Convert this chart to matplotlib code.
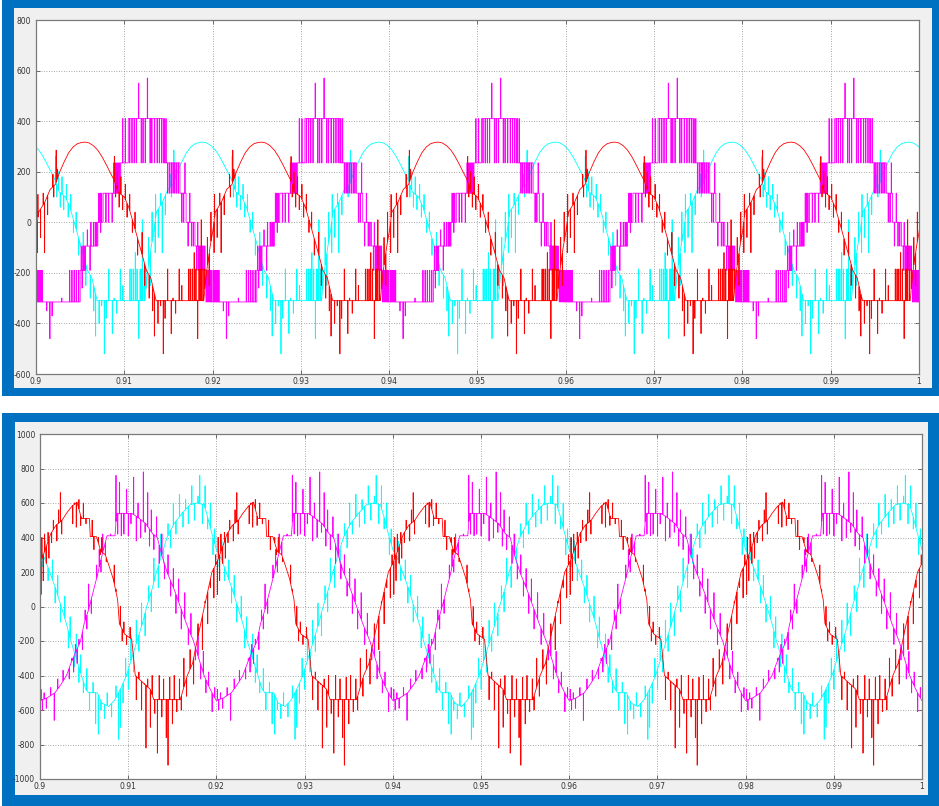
import numpy as np
import matplotlib.pyplot as plt
from matplotlib.patches import Rectangle

# one 20 ms period of every trace (ms after 0.900 s)
PERIOD = 20.0
N_PERIODS = 5

# --- top panel: phase voltages (red and cyan share one shape, cyan is delayed) ---
top_ph_t = [0.0, 0.3, 1.0, 1.6, 2.2, 2.7, 3.2, 3.7, 4.2, 4.7, 5.2, 5.55, 6.0, 6.5, 7.0, 7.5,
            8.0, 8.5, 8.8, 9.3, 10.0, 10.5, 11.0, 11.8, 12.5, 13.0, 13.6, 17.2, 19.0, 19.3, 19.7, 20.0]
top_ph_v = [-40, 40, 80, 130, 150, 200, 240, 275, 298, 311, 316, 317, 314, 303, 285, 258,
            225, 190, 170, 120, 100, 60, 0, -100, -190, -220, -310, -310, -310, -200, -100, -40]
top_ph_spk_t = [0.15, 0.2, 0.5, 0.8, 0.95, 1.3, 1.9, 2.0, 2.27, 2.4,
                8.87, 9.0, 9.2, 9.4, 9.6, 9.8, 10.1, 10.3, 10.6, 10.9, 11.2, 11.5, 12.0, 12.3, 12.8,
                13.2, 13.4, 13.8, 14.1, 14.4, 14.6, 14.9, 15.3, 15.5, 15.8, 16.2, 16.5,
                17.3, 17.5, 17.7, 17.9, 18.1, 18.3, 18.45, 18.55, 18.7, 18.9, 19.1, 19.4, 19.6, 19.8]
top_ph_spk_v = [-120, 110, -60, 115, -120, 30, 190, 100, 285, 210,
                260, 100, 200, 60, 180, 50, 150, 20, 110, -40, 40, -130, -40, -250, -300,
                -350, -450, -400, -330, -520, -380, -185, -440, -300, -360, -185, -250,
                -185, -185, -185, -120, -185, -460, -185, -185, 10, -185, -185, -60, -250, 40]
top_red_delay = 0.0
top_cyan_delay = 13.33

# magenta staircase: level held from each edge to the next
mag_top_edge = [0.0, 5.0, 5.6, 7.0, 7.6, 9.6, 10.45, 14.4, 16.3, 17.0, 18.0, 19.0, 19.8]
mag_top_level = [-315, -190, -94, 0, 115, 235, 410, 235, 115, 0, -94, -190, -315]
mag_top_spk_t = [0.1, 0.25, 0.4, 0.55, 0.7, 1.2, 1.55, 1.8, 2.9, 3.8, 4.05, 4.3, 4.55, 4.8,
                 5.1, 5.2, 5.3, 5.4, 5.5, 5.8, 6.1, 6.2, 6.5, 6.7, 6.85, 7.1, 7.25, 7.3, 7.4,
                 7.9, 8.2, 8.6, 8.8, 9.0, 9.15, 9.3, 9.45,
                 9.8, 10.1,
                 10.6, 10.85, 11.1, 11.35, 11.6, 11.9, 12.1, 12.35, 12.6, 12.9, 13.1, 13.4, 13.7, 13.95, 14.2,
                 14.5, 14.7, 14.9, 15.1, 15.3, 15.5, 15.7, 15.9, 16.1,
                 16.5, 16.7, 16.85, 17.2, 17.4, 17.6, 17.8,
                 18.2, 18.3, 18.4, 18.55, 18.7, 18.85,
                 19.1, 19.25, 19.4, 19.55, 19.7, 19.9]
mag_top_spk_v = [-190, -190, -190, -190, -190, -350, -460, -370, -300, -190, -190, -190, -190, -190,
                 -94, -260, -94, -94, -94, -30, -190, 0, 0, 0, 0, 115, 115, -40, 115,
                 0, 0, 0, 235, 235, 235, 235, 235,
                 410, 410,
                 235, 235, 235, 235, 550, 235, 235, 235, 570, 235, 235, 235, 235, 235, 235,
                 410, 410, 115, 115, 115, 115, 115, 115, 115,
                 0, 0, 235, -94, 115, -94, -94,
                 -190, 0, -190, -190, -190, -190,
                 -94, -315, -315, -315, -315, -190]

# --- bottom panel: line voltages ---
bot_red_t = [0.0, 0.6, 1.2, 1.8, 2.5, 3.0, 3.6, 4.2, 4.7, 5.6, 5.7, 6.4, 6.9, 7.4, 7.8, 8.3,
             8.8, 9.0, 9.6, 10.4, 10.8, 12.5, 12.9, 15.9, 16.7, 17.3, 17.8, 18.3, 18.9, 19.5, 20.0]
bot_red_v = [250, 330, 420, 470, 500, 540, 580, 605, 510, 510, 405, 405, 320, 300, 240, 160,
             40, -100, -160, -190, -400, -480, -540, -540, -400, -330, -200, -80, 60, 200, 250]
bot_red_spk_t = [0.1, 0.2, 0.35, 0.5, 0.7, 0.9, 1.0, 1.3, 1.5, 1.9, 2.1, 2.3, 2.45, 3.7, 3.9, 4.1, 4.4, 4.6, 4.9, 5.2,
                 5.9, 6.1, 6.6, 6.8, 7.0, 7.5, 8.4, 8.6, 9.1, 9.3, 9.5, 9.8, 10.2, 10.9, 11.2, 11.5, 11.8, 12.0, 12.2, 12.5,
                 12.7, 13.0, 13.3, 13.5, 13.8, 14.0, 14.3, 14.5, 14.7, 15.0, 15.2, 15.5, 15.8, 16.0, 16.3, 16.6, 17.0, 17.4,
                 17.9, 18.4, 18.7, 19.0, 19.3, 19.7, 19.9]
bot_red_spk_v = [70, 400, 150, 420, 250, 430, 280, 370, 500, 380, 560, 660, 420, 480, 600, 460, 620, 470, 600, 480,
                 500, 330, 400, 300, 400, 260, 240, 100, 0, -200, -90, -220, -120, -540, -380, -600, -450, -820, -420, -700,
                 -400, -620, -850, -400, -640, -420, -760, -920, -410, -680, -400, -610, -420, -600, -300, -520, -250, -450,
                 -100, -250, 30, -100, 110, 50, 300]

bot_mag_t = [0.0, 0.8, 1.7, 2.4, 3.0, 3.5, 4.0, 4.6, 5.0, 5.5, 6.0, 6.5, 6.8, 7.3, 7.6, 8.5, 8.7,
             10.4, 11.0, 12.0, 12.8, 13.3, 13.8, 14.4, 15.2, 15.9, 16.6, 17.4, 18.0, 18.6, 19.2, 19.7, 20.0]
bot_mag_v = [-545, -530, -500, -450, -400, -330, -270, -200, -100, -20, 80, 180, 250, 350, 410, 410, 540,
             540, 520, 480, 420, 400, 300, 200, 100, 0, -100, -200, -300, -400, -470, -520, -545]
bot_mag_spk_t = [0.1, 0.25, 0.45, 0.7, 1.2, 1.6, 2.0, 2.6, 3.3, 3.6, 3.8, 4.0, 4.2, 4.4, 4.8, 5.1, 5.3, 5.5, 5.8, 6.4,
                 6.7, 6.9, 7.1, 7.4, 8.0, 8.6, 8.8, 9.0, 9.2, 9.5, 9.8, 10.0, 10.3, 10.6, 10.9, 11.1, 11.4, 11.7, 11.9, 12.2,
                 12.4, 12.6, 12.9, 13.2, 13.5, 13.8, 14.1, 14.5, 14.8, 15.1, 15.4, 15.7, 16.0, 16.4, 16.8, 17.1, 17.6, 17.9,
                 18.2, 18.5, 18.8, 19.1, 19.5, 19.8]
bot_mag_spk_v = [-480, -600, -500, -590, -470, -660, -420, -370, -420, -300, -380, -220, -330, -190, -250, -20, -130, 130, -40, 240,
                 330, 200, 420, 300, 420, 760, 420, 720, 410, 420, 680, 410, 480, 750, 380, 600, 400, 780, 430, 660,
                 350, 560, 330, 520, 250, 420, 160, 300, 60, 220, -40, 160, -130, 80, -220, -40, -310, -120,
                 -420, -260, -500, -380, -610, -470]

bot_cyan_t = [0.0, 0.6, 1.1, 1.8, 2.4, 3.0, 3.5, 4.1, 4.7, 5.2, 5.5, 6.5, 7.0, 7.8, 8.5, 9.2, 9.8,
              10.4, 11.0, 11.6, 12.1, 12.7, 13.2, 13.8, 14.4, 15.2, 16.1, 17.0, 17.8, 18.6, 19.0, 19.5, 20.0]
bot_cyan_v = [330, 270, 200, 100, 0, -100, -200, -300, -400, -480, -500, -500, -560, -580, -540, -470, -400,
              -300, -200, -100, 0, 100, 200, 300, 400, 480, 540, 590, 600, 590, 520, 420, 330]
bot_cyan_spk_t = [0.1, 0.3, 0.6, 0.9, 1.4, 1.7, 2.0, 2.3, 2.8, 3.2, 3.4, 3.9, 4.1, 4.4, 4.6, 4.9, 5.3, 5.6, 6.0, 6.3,
                  6.6, 6.9, 7.3, 7.6, 8.1, 8.6, 8.9, 9.1, 9.4, 9.7, 10.0, 10.3, 10.6, 10.9, 11.2, 11.5, 11.9, 12.3, 12.6, 12.9,
                  13.4, 13.7, 14.0, 14.5, 14.8, 15.1, 15.4, 15.8, 16.2, 16.5, 16.8, 17.2, 17.5, 17.9, 18.1, 18.4, 18.7, 19.0,
                  19.3, 19.6, 19.8]
bot_cyan_spk_v = [400, 230, 380, 150, 270, 20, 180, -90, 60, -240, -60, -350, -160, -440, -280, -500, -360, -600, -440, -680,
                  -740, -600, -650, -500, -640, -460, -770, -700, -560, -300, -480, -170, -380, -80, -260, 20, -170, 120, -30, 280,
                  110, 420, 250, 480, 340, 600, 420, 650, 460, 620, 480, 700, 500, 640, 760, 480, 700, 450, 600, 300,
                  450]

x_ticks = [0.9, 0.91, 0.92, 0.93, 0.94, 0.95, 0.96, 0.97, 0.98, 0.99, 1.0]
x_tick_labels = ['0.9', '0.91', '0.92', '0.93', '0.94', '0.95', '0.96', '0.97', '0.98', '0.99', '1']
top_y_ticks = [-600, -400, -200, 0, 200, 400, 600, 800]
bot_y_ticks = [-1000, -800, -600, -400, -200, 0, 200, 400, 600, 800, 1000]

W, H = 939, 806
BLUE = '#0070C0'
GREY = '#F0F0F0'


def one_period(bt, bv, st, sv, width, step=False):
    bt = np.asarray(bt, float)
    bv = np.asarray(bv, float)
    st = np.asarray(st, float)
    sv = np.asarray(sv, float)
    if step:
        pt = np.append(np.repeat(bt, 2)[1:], PERIOD)
        pv = np.repeat(bv, 2)
        base = bv[np.searchsorted(bt, st, side='right') - 1]
        base2 = bv[np.searchsorted(bt, st + width, side='right') - 1]
    else:
        pt, pv = bt, bv
        base = np.interp(st, bt, bv)
        base2 = np.interp(st + width, bt, bv)
    # each switching pulse: jump to the read value and back
    spt = np.column_stack([st, st, st + width, st + width]).ravel()
    spv = np.column_stack([base, sv, sv, base2]).ravel()
    t = np.concatenate([pt, spt])
    v = np.concatenate([pv, spv])
    order = np.argsort(t, kind='stable')
    return t[order], v[order]


def trace(bt, bv, st, sv, delay, width, step=False):
    t1, v1 = one_period(bt, bv, st, sv, width, step)
    ts, vs = [], []
    for k in range(-1, N_PERIODS + 1):
        ts.append(t1 + k * PERIOD + delay)
        vs.append(v1)
    return 0.9 + np.concatenate(ts) / 1000.0, np.concatenate(vs)


def frame(x0, y0, x1, y1, color, z):
    fig.add_artist(Rectangle((x0 / W, 1 - y1 / H), (x1 - x0) / W, (y1 - y0) / H,
                             transform=fig.transFigure, facecolor=color, edgecolor='none', zorder=z))


def style(ax, yticks):
    ax.set_facecolor('white')
    ax.set_xlim(0.9, 1.0)
    ax.set_ylim(yticks[0], yticks[-1])
    ax.set_xticks(x_ticks)
    ax.set_xticklabels(x_tick_labels)
    ax.set_yticks(yticks)
    ax.set_yticklabels([str(y) for y in yticks])
    ax.tick_params(direction='in', length=3, width=0.6, colors='#555555', labelcolor='#333333',
                   labelsize=5.5, top=True, right=True)
    ax.tick_params(axis='x', pad=2)
    ax.tick_params(axis='y', pad=3.5)
    for s in ax.spines.values():
        s.set_color('#7a7a7a')
        s.set_linewidth(0.9)
    ax.grid(True, linestyle=(0, (1, 2)), color='#8a8a8a', linewidth=0.6)
    ax.set_axisbelow(True)


fig = plt.figure(figsize=(W / 100, H / 100), dpi=100)
fig.patch.set_facecolor('white')

# blue screenshot frames with the grey MATLAB figure inside
frame(2, 0, 939, 396, BLUE, 0)
frame(14, 8, 932, 388, GREY, 1)
frame(2, 413, 939, 806, BLUE, 0)
frame(15, 422, 928, 795, GREY, 1)

ax1 = fig.add_axes([36 / W, 1 - 374 / H, (919 - 36) / W, (374 - 20) / H])
ax2 = fig.add_axes([40 / W, 1 - 779 / H, (922 - 40) / W, (779 - 434) / H])
for ax in (ax1, ax2):
    ax.set_zorder(3)

lw = 0.6
t, v = trace(top_ph_t, top_ph_v, top_ph_spk_t, top_ph_spk_v, top_cyan_delay, 0.03)
ax1.plot(t, v, color='#00FFFF', linewidth=lw)
t, v = trace(mag_top_edge, mag_top_level, mag_top_spk_t, mag_top_spk_v, 0.0, 0.045, step=True)
ax1.plot(t, v, color='#FF00FF', linewidth=lw)
t, v = trace(top_ph_t, top_ph_v, top_ph_spk_t, top_ph_spk_v, top_red_delay, 0.03)
ax1.plot(t, v, color='#FF0000', linewidth=lw)
style(ax1, top_y_ticks)

t, v = trace(bot_cyan_t, bot_cyan_v, bot_cyan_spk_t, bot_cyan_spk_v, 0.0, 0.03)
ax2.plot(t, v, color='#00FFFF', linewidth=lw)
t, v = trace(bot_mag_t, bot_mag_v, bot_mag_spk_t, bot_mag_spk_v, 0.0, 0.03)
ax2.plot(t, v, color='#FF00FF', linewidth=lw)
t, v = trace(bot_red_t, bot_red_v, bot_red_spk_t, bot_red_spk_v, 0.0, 0.03)
ax2.plot(t, v, color='#FF0000', linewidth=lw)
style(ax2, bot_y_ticks)

fig.savefig('out.png', dpi=100, facecolor=fig.get_facecolor())
